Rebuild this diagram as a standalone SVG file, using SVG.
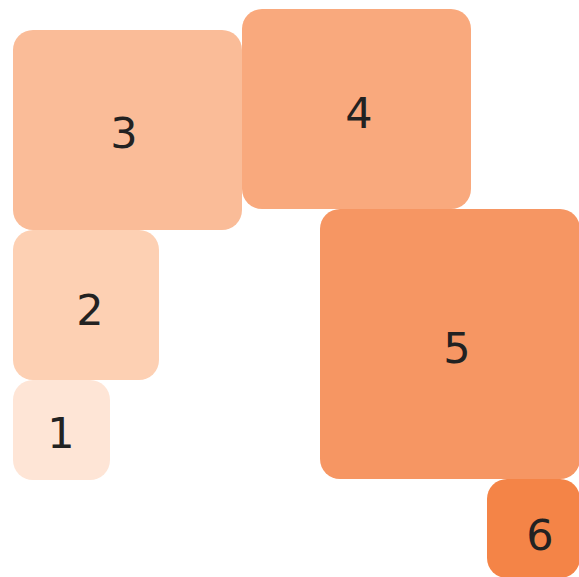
<svg xmlns="http://www.w3.org/2000/svg" width="579" height="577" viewBox="0 0 579 577">
<style>
.lbl{font-family:"DejaVu Sans","Liberation Sans",sans-serif;font-size:43px;fill:#222;text-anchor:middle}
</style>
<rect width="579" height="577" fill="#fff"/>
<g id="node-3"><rect x="13" y="30" width="229" height="200" rx="20" fill="#fabc98"/><text class="lbl" x="124" y="148">3</text></g>
<g id="node-4"><rect x="242" y="9" width="229" height="200" rx="20" fill="#f9a97d"/><text class="lbl" x="359" y="128">4</text></g>
<g id="node-2"><rect x="13" y="230" width="146" height="150" rx="20" fill="#fdd0b3"/><text class="lbl" x="90" y="325">2</text></g>
<g id="node-1"><rect x="13" y="380" width="97" height="100" rx="20" fill="#fee5d6"/><text class="lbl" x="61" y="448">1</text></g>
<g id="node-5"><rect x="320" y="209" width="260" height="270" rx="20" fill="#f69663"/><text class="lbl" x="457" y="363">5</text></g>
<g id="node-6"><rect x="487" y="479" width="93" height="99" rx="20" fill="#f48447"/><text class="lbl" x="540" y="550">6</text></g>
<g id="connectors"/>
</svg>
